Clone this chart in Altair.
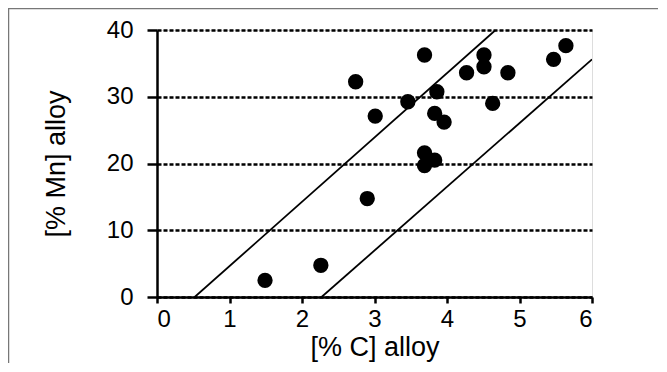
import altair as alt
import pandas as pd

# scatter data: [% C] alloy vs [% Mn] alloy
c_pct = [1.49, 2.26, 2.90, 2.74, 3.01, 3.46, 3.69, 3.69, 3.69, 3.83, 3.86, 3.83,
         3.96, 4.27, 4.51, 4.51, 4.84, 4.63, 5.47, 5.64]
mn_pct = [2.5, 4.75, 14.75, 32.25, 27.1, 29.25, 36.25, 21.6, 19.7, 20.5, 30.75, 27.5,
          26.2, 33.6, 36.25, 34.5, 33.6, 29.0, 35.6, 37.65]

# two parallel boundary lines
line_id = ["upper", "upper", "lower", "lower"]
line_c = [0.52, 4.67, 2.27, 6.0]
line_mn = [0.0, 40.0, 0.0, 35.6]

x_ticks = [0, 1, 2, 3, 4, 5, 6]
y_ticks = [0, 10, 20, 30, 40]

pts = pd.DataFrame({"c": c_pct, "mn": mn_pct})
lines = pd.DataFrame({"id": line_id, "c": line_c, "mn": line_mn})
one = pd.DataFrame({"d": [0]})

FONT = "Liberation Sans"

xscale = alt.Scale(domain=[0, 6], nice=False, zero=False)
yscale = alt.Scale(domain=[0, 40], nice=False, zero=False)

xaxis = alt.Axis(values=x_ticks, format="d", title="[% C] alloy", grid=False,
                 tickSize=6, tickWidth=2.5, tickColor="black",
                 domainColor="black", domainWidth=2.5,
                 labelFontSize=24, labelPadding=4, labelColor="black", labelFont=FONT,
                 titleFontSize=27, titleFontWeight="normal", titleColor="black",
                 titleFont=FONT, titlePadding=3)
yaxis = alt.Axis(values=y_ticks, format="d", title="[% Mn] alloy", grid=True,
                 gridDash=[4, 2], gridColor="black", gridWidth=2.5, gridOpacity=1,
                 tickSize=10, tickWidth=2.5, tickColor="black",
                 domainColor="black", domainWidth=2.5,
                 labelFontSize=24, labelPadding=14, labelColor="black", labelFont=FONT,
                 titleFontSize=27, titleFontWeight="normal", titleColor="black",
                 titleFont=FONT, titlePadding=36)

lines_layer = alt.Chart(lines).mark_line(color="black", strokeWidth=1.8, clip=True).encode(
    x=alt.X("c:Q", scale=xscale, axis=xaxis),
    y=alt.Y("mn:Q", scale=yscale, axis=yaxis),
    detail="id:N",
)

pts_layer = alt.Chart(pts).mark_circle(color="black", opacity=1, size=235).encode(
    x=alt.X("c:Q", scale=xscale),
    y=alt.Y("mn:Q", scale=yscale),
)

border_left = alt.Chart(one).mark_rule(color="#777777", strokeWidth=1.5).encode(
    x=alt.value(-148.5), y=alt.value(-22), y2=alt.value(400)
)
border_top = alt.Chart(one).mark_rule(color="#777777", strokeWidth=1.5).encode(
    x=alt.value(-149), x2=alt.value(520), y=alt.value(-21.5)
)

chart = alt.layer(lines_layer, pts_layer, border_left, border_top).properties(
    width=435, height=267,
    autosize=alt.AutoSizeParams(type="none"),
    padding={"left": 149, "top": 22, "right": 66, "bottom": 66},
).configure_view(stroke="black", strokeWidth=2.5).configure(background="white")

chart.save("out.html", embed_options={"renderer": "svg", "actions": False})
